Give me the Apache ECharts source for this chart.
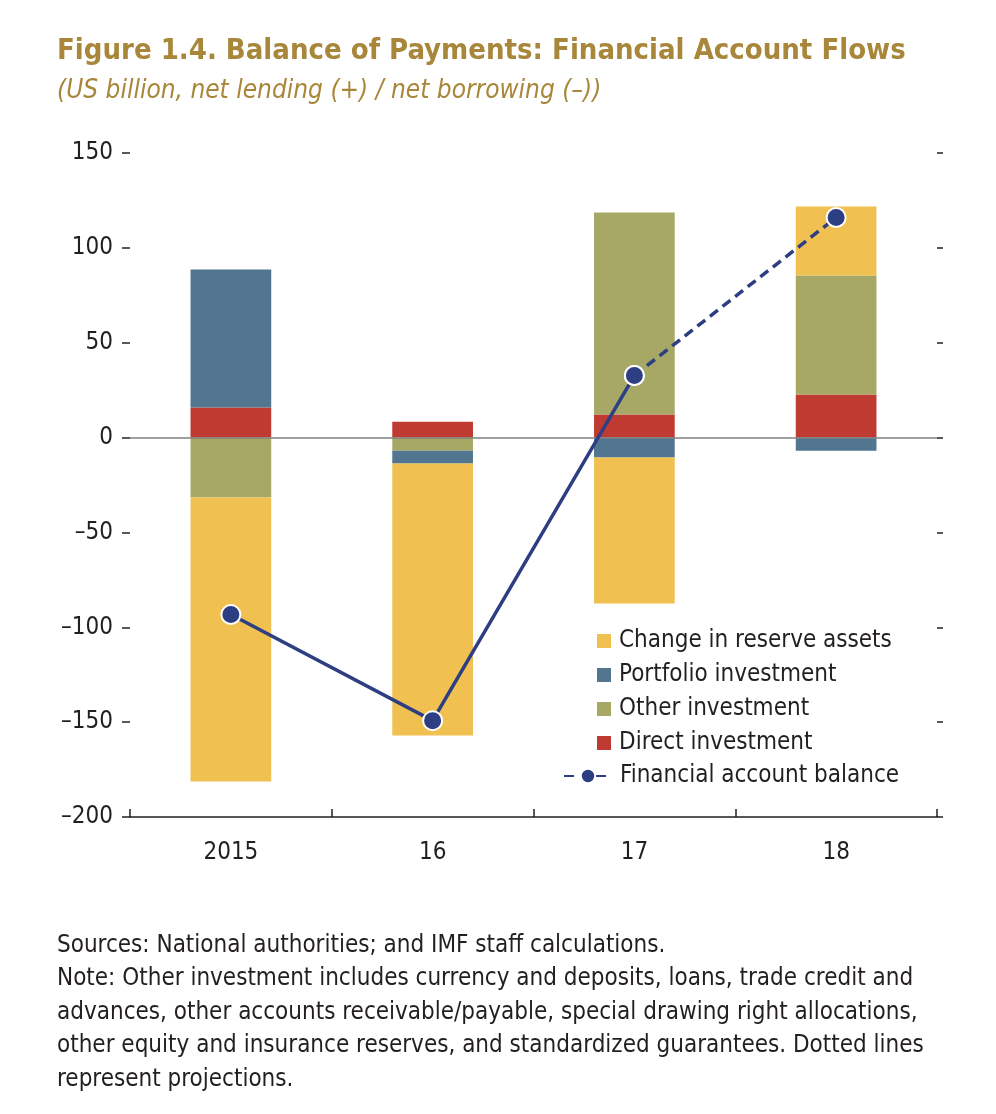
<!DOCTYPE html>
<html>
<head>
<meta charset="utf-8">
<script src="https://cdn.jsdelivr.net/npm/echarts@6/dist/echarts.min.js"></script>
<style>
html,body{margin:0;padding:0;background:#fff;}
#chart{width:996px;height:1114px;}
</style>
</head>
<body>
<div id="chart"></div>
<script>
var categories = ['2015', '16', '17', '18'];
var directInvestment = [15.8, 8.4, 12.1, 22.7];
var otherInvestment = [-31.6, -6.9, 106.5, 62.7];
var portfolioInvestment = [72.8, -6.8, -10.5, -6.9];
var reserveAssets = [-149.7, -143.3, -77.0, 36.4];
var balanceActual = [-93.3, -149.2, 32.7, null];
var balanceProjected = [null, null, 32.7, 116.0];
var yTicks = [-200, -150, -100, -50, 0, 50, 100, 150];

var FONT = "'Liberation Sans Narrow', 'DejaVu Sans Condensed', 'Liberation Sans', sans-serif";
var C_RES = '#F0C050', C_PORT = '#52768F', C_OTHER = '#A7A866', C_DIRECT = '#BF3B31', C_LINE = '#2D3E82';

function fmt(v){ return v < 0 ? '\u2013' + Math.abs(v) : String(v); }

var chart = echarts.init(document.getElementById('chart'), null, {renderer: 'canvas'});
var barCommon = { type: 'bar', stack: 'bop', barWidth: '40%', emphasis: {disabled: true} };

chart.setOption({
  animation: false,
  textStyle: { fontFamily: FONT },
  title: [
    {
      text: 'Figure 1.4. Balance of Payments: Financial Account Flows',
      subtext: '(US billion, net lending (+) / net borrowing (\u2013))',
      left: 52, top: 32, itemGap: 12,
      textStyle: { fontFamily: FONT, fontSize: 29, fontWeight: 'bold', color: '#A8863A' },
      subtextStyle: { fontFamily: FONT, fontSize: 26, fontStyle: 'italic', color: '#A8863A' }
    },
    {
      text: 'Sources: National authorities; and IMF staff calculations.\nNote: Other investment includes currency and deposits, loans, trade credit and\nadvances, other accounts receivable/payable, special drawing right allocations,\nother equity and insurance reserves, and standardized guarantees. Dotted lines\nrepresent projections.',
      left: 52, top: 924,
      textStyle: { fontFamily: FONT, fontSize: 24, fontWeight: 'normal', color: '#231F20', lineHeight: 33.5 }
    }
  ],
  legend: [
    {
      data: ['Change in reserve assets', 'Portfolio investment', 'Other investment', 'Direct investment'],
      orient: 'vertical', left: 597, top: 629, padding: 0, itemWidth: 14, itemHeight: 14, itemGap: 10,
      icon: 'rect', selectedMode: false,
      textStyle: { fontFamily: FONT, fontSize: 24, color: '#231F20', padding: [0, 0, 0, 3] }
    },
    {
      data: ['Financial account balance'],
      orient: 'vertical', left: 563, top: 764, padding: 0, itemWidth: 48, itemHeight: 18,
      selectedMode: false,
      textStyle: { fontFamily: FONT, fontSize: 24, color: '#231F20', padding: [0, 0, 0, 3] }
    }
  ],
  grid: { left: 130, right: 59, top: 153, bottom: 297, containLabel: false },
  xAxis: {
    type: 'category', data: categories,
    axisLine: { show: true, onZero: false, lineStyle: { color: '#231F20', width: 1.5 } },
    axisTick: { show: true, inside: true, length: 8, lineStyle: { color: '#231F20', width: 1.5 } },
    axisLabel: { fontFamily: FONT, fontSize: 24, color: '#231F20', margin: 24 }
  },
  yAxis: [
    {
      type: 'value', min: -200, max: 150, interval: 50,
      axisLine: { show: false },
      axisTick: { show: true, length: 8, lineStyle: { color: '#231F20', width: 1.5 } },
      axisLabel: { fontFamily: FONT, fontSize: 24, color: '#231F20', margin: 17, formatter: fmt },
      splitLine: { show: false }
    },
    {
      type: 'value', min: -200, max: 150, interval: 50, position: 'right',
      axisLine: { show: false },
      axisTick: { show: true, length: 6, lineStyle: { color: '#231F20', width: 1.5 } },
      axisLabel: { show: false },
      splitLine: { show: false }
    }
  ],
  series: [
    Object.assign({}, barCommon, { name: 'Direct investment', data: directInvestment, itemStyle: { color: C_DIRECT },
      markLine: { silent: true, symbol: 'none', label: { show: false },
        lineStyle: { color: '#808080', width: 1.5, type: 'solid' }, data: [{ yAxis: 0 }] } }),
    Object.assign({}, barCommon, { name: 'Other investment', data: otherInvestment, itemStyle: { color: C_OTHER } }),
    Object.assign({}, barCommon, { name: 'Portfolio investment', data: portfolioInvestment, itemStyle: { color: C_PORT } }),
    Object.assign({}, barCommon, { name: 'Change in reserve assets', data: reserveAssets, itemStyle: { color: C_RES } }),
    {
      type: 'line', name: 'Balance (actual)', data: balanceActual, connectNulls: false,
      symbol: 'circle', symbolSize: 19, z: 5,
      lineStyle: { color: C_LINE, width: 3.5 },
      itemStyle: { color: C_LINE, borderColor: '#fff', borderWidth: 2 },
      emphasis: { disabled: true }
    },
    {
      type: 'line', name: 'Financial account balance', data: balanceProjected, connectNulls: false,
      symbol: 'circle', symbolSize: 19, z: 5,
      lineStyle: { color: C_LINE, width: 3.5, type: [10, 6] },
      itemStyle: { color: C_LINE, borderColor: '#fff', borderWidth: 2 },
      emphasis: { disabled: true }
    }
  ]
});
</script>
</body>
</html>
